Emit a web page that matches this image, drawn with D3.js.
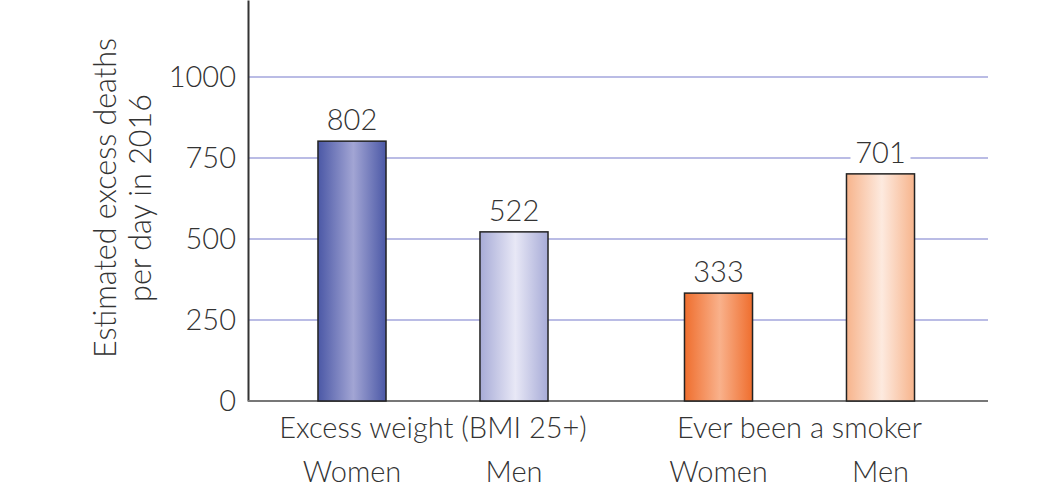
<!doctype html>
<html>
<head>
<style>
  body { margin: 0; background: #fff; }
  text { font-family: "Lato", "Open Sans", sans-serif; fill: #333; }
</style>
<script src="https://d3js.org/d3.v7.min.js"></script>
</head>
<body>
<svg width="1059" height="494"></svg>
<script>
// data
var groups = ["Excess weight (BMI 25+)", "Ever been a smoker"];
var sexes = ["Women", "Men"];
var values = [[802, 522], [333, 701]];
var yTicks = [0, 250, 500, 750, 1000];
var yTitle = ["Estimated excess deaths", "per day in 2016"];

// bar gradient colours: [edge, centre]
var barColors = [
  [["#4b58a6", "#a2a5d4"], ["#a7abd7", "#e8e8f6"]],
  [["#ef6e2e", "#f9b18b"], ["#f7b48c", "#fdeadf"]]
];

var svg = d3.select("svg");
var x0 = 248, x1 = 988, yBase = 401;
var fs = "29px";

var y = d3.scaleLinear().domain([0, 1000]).range([yBase, 77]);
var yTop = y.invert(0);
y.domain([0, yTop]).range([yBase, 0]);

var outer = d3.scaleBand().domain(groups).range([271, 961.5]).paddingInner(0.116);
var inner = d3.scaleBand().domain(sexes).range([0, outer.bandwidth()]).paddingInner(0.58).paddingOuter(0.29);

var defs = svg.append("defs");
groups.forEach(function (g, gi) {
  sexes.forEach(function (s, si) {
    var c = barColors[gi][si];
    var grad = defs.append("linearGradient").attr("id", "g" + gi + si)
      .attr("x1", "0%").attr("x2", "100%").attr("y1", "0%").attr("y2", "0%");
    grad.append("stop").attr("offset", "0%").attr("stop-color", c[0]);
    grad.append("stop").attr("offset", "52%").attr("stop-color", c[1]);
    grad.append("stop").attr("offset", "100%").attr("stop-color", c[0]);
  });
});

// gridlines
svg.append("g").selectAll("line")
  .data(yTicks.filter(function (d) { return d > 0; }))
  .enter().append("line")
  .attr("x1", x0).attr("x2", x1)
  .attr("y1", function (d) { return y(d); })
  .attr("y2", function (d) { return y(d); })
  .attr("stroke", "#a3a6dc").attr("stroke-width", 1.6);

// y axis
var yAxis = svg.append("g").attr("transform", "translate(" + x0 + ",0)")
  .call(d3.axisLeft(y).tickValues(yTicks).tickFormat(d3.format("d")).tickSize(0).tickPadding(12));
yAxis.select(".domain").attr("stroke", "#333").attr("stroke-width", 2);
yAxis.selectAll("text").style("font-size", fs).style("font-weight", 300)
  .style("font-family", "Lato, sans-serif").attr("fill", "#333");

// x baseline
svg.append("line").attr("x1", x0).attr("x2", x1).attr("y1", yBase).attr("y2", yBase)
  .attr("stroke", "#777").attr("stroke-width", 2);

// bars
var flat = [];
groups.forEach(function (g, gi) {
  sexes.forEach(function (s, si) {
    flat.push({ g: g, s: s, gi: gi, si: si, v: values[gi][si] });
  });
});

var bx = function (d) { return outer(d.g) + inner(d.s); };

svg.append("g").selectAll("rect.bar")
  .data(flat).enter().append("rect").attr("class", "bar")
  .attr("x", bx)
  .attr("y", function (d) { return y(d.v); })
  .attr("width", inner.bandwidth())
  .attr("height", function (d) { return yBase - y(d.v); })
  .attr("fill", function (d) { return "url(#g" + d.gi + d.si + ")"; })
  .attr("stroke", "#222").attr("stroke-width", 1.5);

// value labels with white backing
var lab = svg.append("g").selectAll("g").data(flat).enter().append("g");
lab.append("rect")
  .attr("x", function (d) { return bx(d) + inner.bandwidth() / 2 - 30; })
  .attr("y", function (d) { return y(d.v) - 36; })
  .attr("width", 60).attr("height", 26).attr("fill", "#fff");
lab.append("text")
  .attr("x", function (d) { return bx(d) + inner.bandwidth() / 2; })
  .attr("y", function (d) { return y(d.v) - 11; })
  .attr("text-anchor", "middle")
  .style("font-size", fs).style("font-weight", 300)
  .text(function (d) { return d.v; });

// category labels
svg.append("g").selectAll("text").data(groups).enter().append("text")
  .attr("x", function (d) { return outer(d) + outer.bandwidth() / 2; })
  .attr("y", 438)
  .attr("text-anchor", "middle")
  .style("font-size", fs).style("font-weight", 300)
  .text(function (d) { return d; });

svg.append("g").selectAll("text").data(flat).enter().append("text")
  .attr("x", function (d) { return bx(d) + inner.bandwidth() / 2; })
  .attr("y", 482)
  .attr("text-anchor", "middle")
  .style("font-size", fs).style("font-weight", 300)
  .text(function (d) { return d.s; });

// y title
svg.append("text")
  .attr("transform", "translate(116,198) rotate(-90)")
  .attr("text-anchor", "middle")
  .style("font-size", "30.5px").style("font-weight", 300)
  .selectAll("tspan").data(yTitle).enter().append("tspan")
  .attr("x", 0).attr("y", function (d, i) { return i * 35; })
  .text(function (d) { return d; });
</script>
</body>
</html>
